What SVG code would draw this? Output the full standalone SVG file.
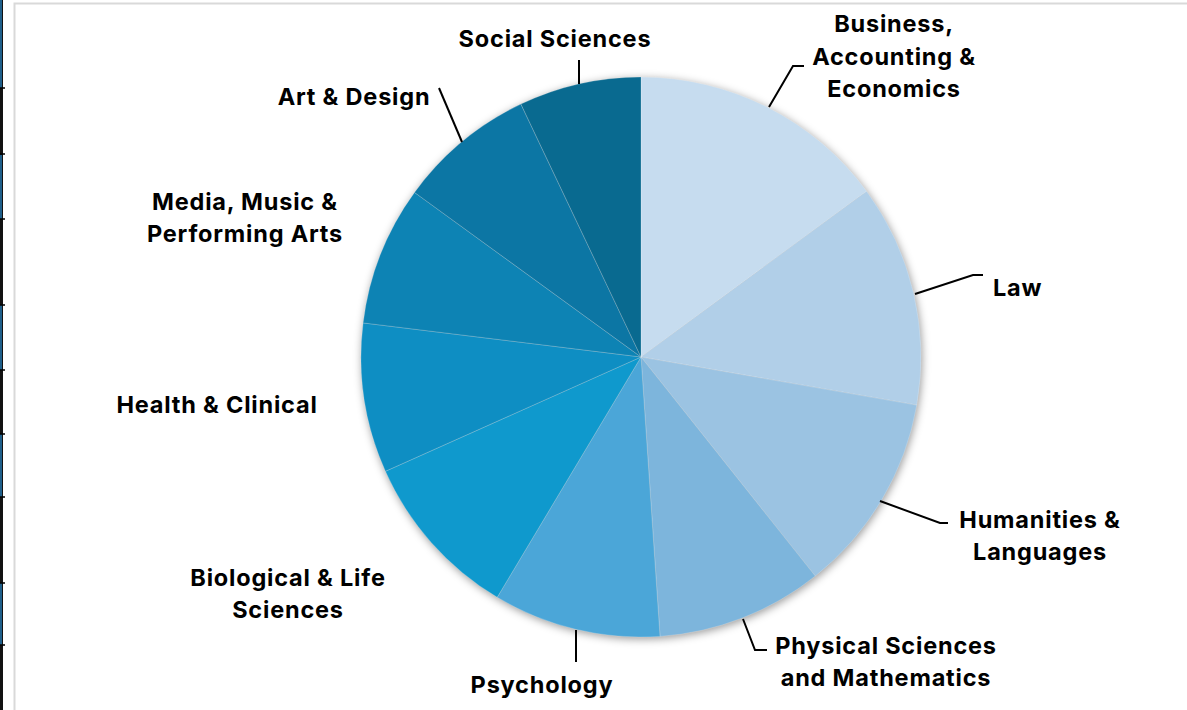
<svg xmlns="http://www.w3.org/2000/svg" width="1187" height="710" viewBox="0 0 1187 710">
  <style>
    .lbl { font-family: Inter, "Noto Sans", "Liberation Sans", sans-serif; font-weight: 700; font-size: 23.5px; letter-spacing: 0.8px; fill: #000; }
    .mid { text-anchor: middle; }
    .lead { fill: none; stroke: #000; stroke-width: 2; stroke-linejoin: miter; }
    .slice { stroke: #ffffff; stroke-opacity: 0.25; stroke-width: 0.8; }
  </style>
  <defs>
    <filter id="shadow" x="-10%" y="-10%" width="120%" height="120%">
      <feGaussianBlur stdDeviation="4"/>
    </filter>
  </defs>
  <rect x="0" y="0" width="1187" height="710" fill="#ffffff"/>
  <!-- left window strip -->
  <g id="edge">
    <rect x="0" y="0" width="3" height="710" fill="#111"/>
    <rect x="0" y="0" width="2" height="88" fill="#1f5f8a"/>
    <rect x="0" y="155" width="2" height="64" fill="#1f5f8a"/>
    <rect x="0" y="305" width="2" height="65" fill="#1f5f8a"/>
    <rect x="0" y="434" width="2" height="63" fill="#1f5f8a"/>
    <rect x="0" y="583" width="2" height="62" fill="#1f5f8a"/>
    <path d="M0,88H5M0,154H5M0,219H5M0,305H5M0,370H5M0,434H5M0,497H5M0,583H5M0,645H5" stroke="#000" stroke-width="1.5"/>
  </g>
  <!-- chart frame -->
  <path d="M14.5,712V3.5H1190" fill="none" stroke="#d9d9d9" stroke-width="2"/>
  <!-- shadow -->
  <circle cx="642" cy="359" r="280" fill="#000" fill-opacity="0.4" filter="url(#shadow)"/>
  <g id="pie">
    <g id="business"><path class="slice" d="M641,357 L641,77 A280,280 0 0 1 866.7,191.2 Z" fill="#c6dcef"/></g>
    <g id="law"><path class="slice" d="M641,357 L866.7,191.2 A280,280 0 0 1 916.8,405.1 Z" fill="#b1cfe8"/></g>
    <g id="humanities"><path class="slice" d="M641,357 L916.8,405.1 A280,280 0 0 1 815.3,576.1 Z" fill="#9bc3e2"/></g>
    <g id="physical"><path class="slice" d="M641,357 L815.3,576.1 A280,280 0 0 1 660,636.4 Z" fill="#7db5dc"/></g>
    <g id="psychology"><path class="slice" d="M641,357 L660,636.4 A280,280 0 0 1 497.2,597.3 Z" fill="#4ba6d8"/></g>
    <g id="biological"><path class="slice" d="M641,357 L497.2,597.3 A280,280 0 0 1 385.4,471.3 Z" fill="#0f99cd"/></g>
    <g id="health"><path class="slice" d="M641,357 L385.4,471.3 A280,280 0 0 1 363.1,322.9 Z" fill="#0e8ec3"/></g>
    <g id="media"><path class="slice" d="M641,357 L363.1,322.9 A280,280 0 0 1 414.5,192.4 Z" fill="#0d83b4"/></g>
    <g id="art"><path class="slice" d="M641,357 L414.5,192.4 A280,280 0 0 1 520.9,104.1 Z" fill="#0c76a4"/></g>
    <g id="social"><path class="slice" d="M641,357 L520.9,104.1 A280,280 0 0 1 641,77 Z" fill="#096a90"/></g>
  </g>
  <g id="connectors">
    <path class="lead" d="M579,60V84"/>
    <path class="lead" d="M439,88L462,142"/>
    <path class="lead" d="M769,107L793,66H804"/>
    <path class="lead" d="M915,294L973,275H983"/>
    <path class="lead" d="M880,501L940,523H948"/>
    <path class="lead" d="M743,619L755,650H767"/>
    <path class="lead" d="M576,630V662"/>
  </g>
  <g id="labels">
    <g id="lbl-social"><text class="lbl mid" x="555" y="47">Social Sciences</text></g>
    <g id="lbl-business"><text class="lbl mid" x="894" y="32">Business,</text><text class="lbl mid" x="894" y="65">Accounting &amp;</text><text class="lbl mid" x="894" y="97">Economics</text></g>
    <g id="lbl-law"><text class="lbl" x="993" y="296">Law</text></g>
    <g id="lbl-humanities"><text class="lbl mid" x="1040" y="528">Humanities &amp;</text><text class="lbl mid" x="1040" y="560">Languages</text></g>
    <g id="lbl-physical"><text class="lbl mid" x="886" y="654">Physical Sciences</text><text class="lbl mid" x="886" y="686">and Mathematics</text></g>
    <g id="lbl-psychology"><text class="lbl mid" x="542" y="693">Psychology</text></g>
    <g id="lbl-biological"><text class="lbl mid" x="288" y="586">Biological &amp; Life</text><text class="lbl mid" x="288" y="618">Sciences</text></g>
    <g id="lbl-health"><text class="lbl mid" x="217" y="413">Health &amp; Clinical</text></g>
    <g id="lbl-media"><text class="lbl mid" x="245" y="210">Media, Music &amp;</text><text class="lbl mid" x="245" y="242">Performing Arts</text></g>
    <g id="lbl-art"><text class="lbl mid" x="354" y="105">Art &amp; Design</text></g>
  </g>
</svg>
